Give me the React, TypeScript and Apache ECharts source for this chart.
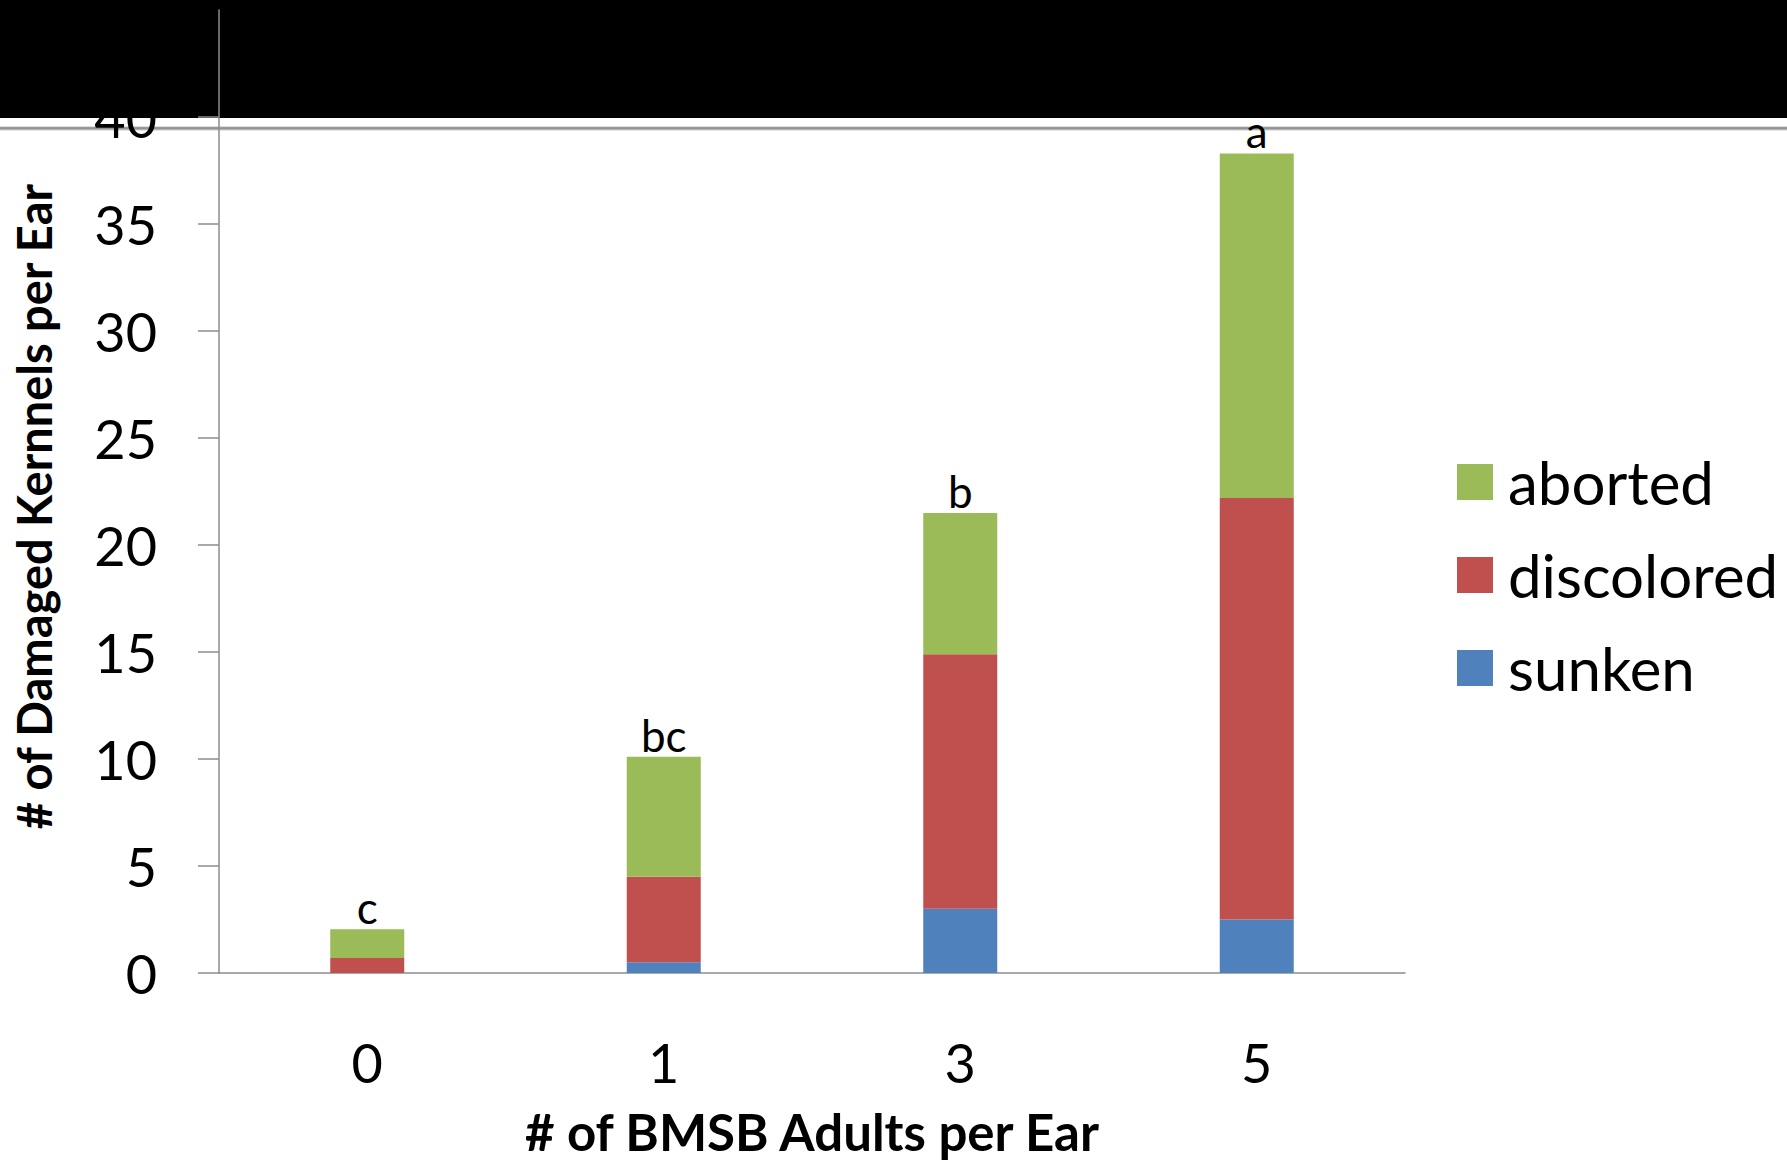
import React, { useEffect, useRef } from "react";
import * as echarts from "echarts";

const categories = ["0", "1", "3", "5"];
const sunken = [0, 0.5, 3.0, 2.5];
const discolored = [0.7, 4.0, 11.9, 19.7];
const aborted = [1.35, 5.6, 6.6, 16.1];
const letters = ["c", "bc", "b", "a"];
const yTicks = { min: 0, max: 45, interval: 5 };

const FONT = "Lato, 'Open Sans', sans-serif";
const GREEN = "#9BBB59";
const RED = "#C0504D";
const BLUE = "#4F81BD";
const AXIS = "#8c8c8c";

export default function App() {
  const ref = useRef<HTMLDivElement>(null);
  useEffect(() => {
    document.body.style.margin = "0";
    if (!ref.current) return;
    const chart = echarts.init(ref.current, null, { renderer: "svg" });
    chart.setOption({
      animation: false,
      backgroundColor: "transparent",
      grid: { left: 219, top: 10, right: 382, bottom: 189, containLabel: false, outerBoundsMode: "none" },
      legend: {
        orient: "vertical",
        left: 1457,
        top: 452,
        padding: 0,
        itemWidth: 36,
        itemHeight: 36,
        itemGap: 33,
        icon: "rect",
        data: ["aborted", "discolored", "sunken"],
        textStyle: {
          fontFamily: FONT,
          fontSize: 60,
          lineHeight: 60,
          color: "#000",
          padding: [0, 0, 0, 10],
        },
      },
      xAxis: {
        type: "category",
        data: categories,
        axisLine: { show: true, lineStyle: { color: AXIS, width: 1.5 } },
        axisTick: { show: false },
        axisLabel: { margin: 62, fontFamily: FONT, fontSize: 54, color: "#000" },
        name: "# of BMSB Adults per Ear",
        nameLocation: "middle",
        nameGap: 132,
        nameTextStyle: { fontFamily: FONT, fontSize: 51, lineHeight: 52, fontWeight: "bold", color: "#000" },
      },
      yAxis: {
        type: "value",
        min: yTicks.min,
        max: yTicks.max,
        interval: yTicks.interval,
        splitLine: { show: false },
        axisLine: { show: true, lineStyle: { color: AXIS, width: 1.5 } },
        axisTick: { show: true, length: 21, inside: false, lineStyle: { color: AXIS, width: 1.5 } },
        axisLabel: { margin: 62, fontFamily: FONT, fontSize: 54, color: "#000", showMaxLabel: false, showMinLabel: true },
        name: "# of Damaged Kernnels per Ear",
        nameLocation: "middle",
        nameGap: 162,
        nameRotate: 90,
        nameTextStyle: {
          fontFamily: FONT,
          fontSize: 47,
          fontWeight: "bold",
          color: "#000",
          padding: [0, 30, 0, 0],
        },
      },
      series: [
        {
          name: "sunken",
          type: "bar",
          stack: "total",
          data: sunken,
          barWidth: 74,
          itemStyle: { color: BLUE },
        },
        {
          name: "discolored",
          type: "bar",
          stack: "total",
          data: discolored,
          barWidth: 74,
          itemStyle: { color: RED },
        },
        {
          name: "aborted",
          type: "bar",
          stack: "total",
          data: aborted,
          barWidth: 74,
          itemStyle: { color: GREEN },
          label: {
            show: true,
            position: "top",
            distance: 0,
            fontFamily: FONT,
            fontSize: 44,
            color: "#000",
            formatter: (p: any) => letters[p.dataIndex],
          },
        },
      ],
    });
    return () => chart.dispose();
  }, []);

  return (
    <div style={{ position: "fixed", left: 0, top: 0, width: 1787, height: 1162, background: "#fff", overflow: "hidden" }}>
      <div style={{ position: "absolute", left: 0, top: 0, width: 1787, height: 118, background: "#000" }} />
      <div
        style={{
          position: "absolute",
          left: 0,
          top: 126,
          width: 1787,
          height: 5,
          background: "linear-gradient(#ffffff, #8a8a8a 35%, #9a9a9a 60%, #ffffff)",
        }}
      />
      <div ref={ref} style={{ position: "absolute", left: 0, top: 0, width: 1787, height: 1162 }} />
    </div>
  );
}
